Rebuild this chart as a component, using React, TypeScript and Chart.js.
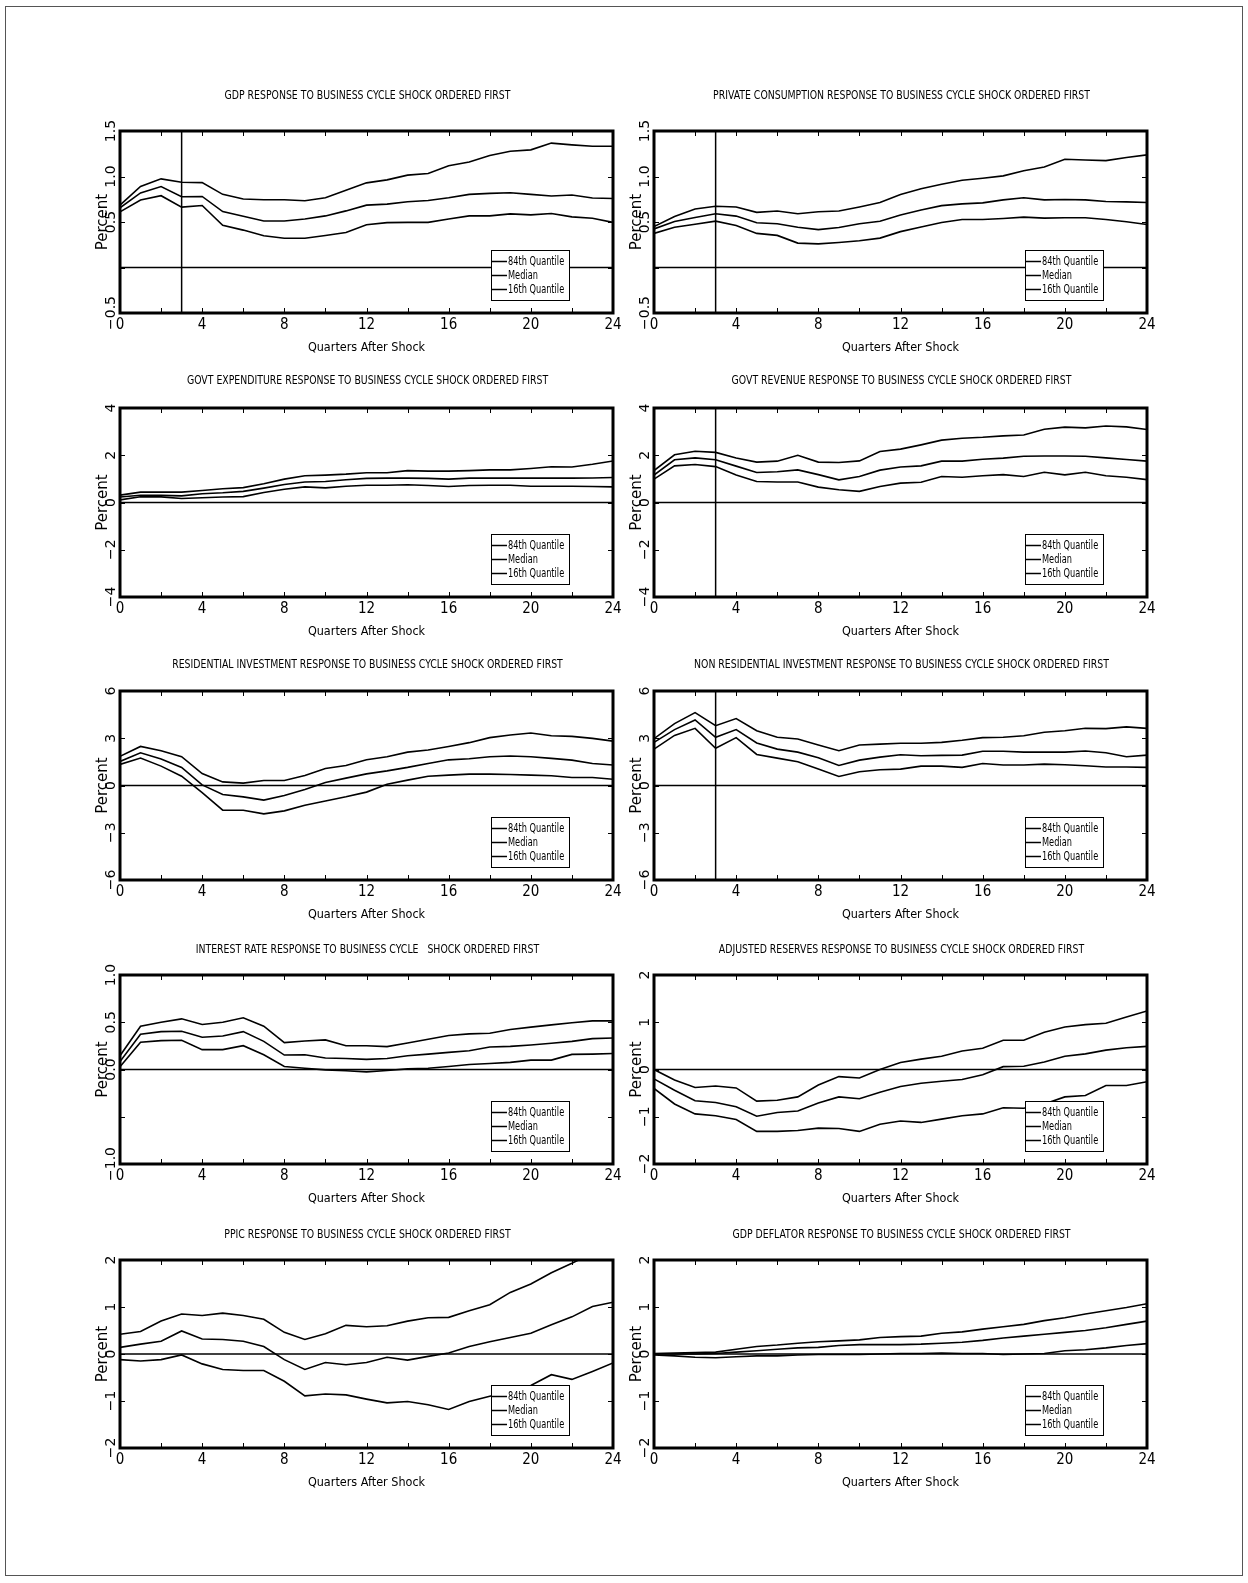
import React, { useEffect, useRef } from "react";
import { Chart, registerables } from "chart.js";

Chart.register(...registerables);

// Horizon (quarters after the shock)
const QUARTERS = [0, 1, 2, 3, 4, 5, 6, 7, 8, 9, 10, 11, 12, 13, 14, 15, 16, 17, 18, 19, 20, 21, 22, 23, 24];
const X_TICK_STEP = 4;
const FRAME_TICKS_X = [2, 4, 6, 8, 10, 12, 14, 16, 18, 20, 22];
const SERIES_LABELS = ["84th Quantile", "Median", "16th Quantile"];

// GDP
const gdp84 = [0.685, 0.89, 0.974, 0.937, 0.933, 0.804, 0.752, 0.744, 0.744, 0.733, 0.767, 0.848, 0.93, 0.963, 1.015, 1.033, 1.119, 1.159, 1.23, 1.278, 1.293, 1.367, 1.348, 1.333, 1.333];
const gdpMed = [0.656, 0.819, 0.889, 0.778, 0.781, 0.615, 0.563, 0.511, 0.511, 0.533, 0.567, 0.622, 0.685, 0.696, 0.722, 0.737, 0.767, 0.804, 0.815, 0.822, 0.804, 0.785, 0.796, 0.763, 0.759];
const gdp16 = [0.611, 0.741, 0.789, 0.663, 0.681, 0.463, 0.411, 0.348, 0.322, 0.322, 0.352, 0.385, 0.47, 0.493, 0.496, 0.496, 0.533, 0.567, 0.567, 0.589, 0.578, 0.593, 0.556, 0.541, 0.496];

// Private consumption
const cons84 = [0.45, 0.561, 0.643, 0.673, 0.665, 0.606, 0.621, 0.591, 0.613, 0.621, 0.665, 0.714, 0.803, 0.866, 0.914, 0.959, 0.981, 1.007, 1.063, 1.104, 1.19, 1.182, 1.175, 1.208, 1.238];
const consMed = [0.424, 0.506, 0.55, 0.591, 0.565, 0.491, 0.48, 0.442, 0.416, 0.439, 0.48, 0.509, 0.576, 0.632, 0.68, 0.699, 0.71, 0.743, 0.766, 0.743, 0.747, 0.743, 0.725, 0.721, 0.714];
const cons16 = [0.375, 0.442, 0.476, 0.509, 0.461, 0.375, 0.353, 0.268, 0.26, 0.275, 0.294, 0.323, 0.394, 0.446, 0.494, 0.528, 0.528, 0.539, 0.554, 0.543, 0.546, 0.546, 0.528, 0.502, 0.472];

// Government expenditure
const govx84 = [0.31, 0.44, 0.44, 0.44, 0.51, 0.58, 0.63, 0.79, 0.99, 1.13, 1.16, 1.2, 1.26, 1.26, 1.35, 1.33, 1.33, 1.35, 1.38, 1.38, 1.44, 1.51, 1.5, 1.62, 1.76];
const govxMed = [0.23, 0.31, 0.3, 0.28, 0.37, 0.41, 0.47, 0.61, 0.76, 0.87, 0.89, 0.96, 1.02, 1.03, 1.03, 1.02, 0.99, 1.03, 1.03, 1.03, 1.04, 1.03, 1.03, 1.04, 1.06];
const govx16 = [0.11, 0.24, 0.24, 0.17, 0.2, 0.23, 0.25, 0.42, 0.56, 0.66, 0.62, 0.69, 0.73, 0.73, 0.75, 0.72, 0.68, 0.72, 0.73, 0.73, 0.69, 0.69, 0.69, 0.68, 0.66];

// Government revenue
const govr84 = [1.35, 2.02, 2.17, 2.12, 1.88, 1.71, 1.75, 2.0, 1.71, 1.69, 1.76, 2.16, 2.26, 2.44, 2.64, 2.72, 2.76, 2.82, 2.86, 3.1, 3.19, 3.16, 3.24, 3.2, 3.09];
const govrMed = [1.16, 1.81, 1.89, 1.81, 1.54, 1.27, 1.3, 1.38, 1.18, 0.96, 1.1, 1.37, 1.5, 1.55, 1.75, 1.75, 1.83, 1.88, 1.96, 1.97, 1.97, 1.96, 1.89, 1.82, 1.75];
const govr16 = [0.99, 1.55, 1.61, 1.52, 1.16, 0.89, 0.87, 0.87, 0.65, 0.54, 0.47, 0.68, 0.82, 0.86, 1.1, 1.07, 1.13, 1.18, 1.1, 1.28, 1.17, 1.28, 1.13, 1.07, 0.97];

// Residential investment
const resi84 = [1.85, 2.48, 2.21, 1.83, 0.76, 0.23, 0.15, 0.32, 0.32, 0.64, 1.08, 1.27, 1.63, 1.83, 2.12, 2.25, 2.48, 2.72, 3.04, 3.21, 3.33, 3.16, 3.12, 2.99, 2.82];
const resiMed = [1.53, 2.08, 1.68, 1.15, 0.04, -0.57, -0.72, -0.93, -0.64, -0.25, 0.19, 0.47, 0.74, 0.93, 1.15, 1.4, 1.63, 1.7, 1.83, 1.87, 1.83, 1.72, 1.61, 1.4, 1.3];
const resi16 = [1.34, 1.74, 1.23, 0.59, -0.45, -1.57, -1.57, -1.8, -1.61, -1.25, -0.98, -0.72, -0.42, 0.08, 0.34, 0.59, 0.66, 0.72, 0.72, 0.7, 0.66, 0.62, 0.51, 0.51, 0.4];

// Non residential investment
const nres84 = [2.97, 3.93, 4.63, 3.8, 4.25, 3.48, 3.06, 2.95, 2.57, 2.21, 2.57, 2.63, 2.68, 2.68, 2.74, 2.87, 3.04, 3.06, 3.16, 3.38, 3.48, 3.63, 3.61, 3.72, 3.63];
const nresMed = [2.74, 3.55, 4.16, 3.06, 3.55, 2.7, 2.31, 2.12, 1.76, 1.27, 1.61, 1.8, 1.95, 1.89, 1.91, 1.93, 2.17, 2.17, 2.12, 2.12, 2.12, 2.19, 2.08, 1.83, 1.93];
const nres16 = [2.31, 3.18, 3.63, 2.36, 3.04, 1.97, 1.74, 1.51, 1.04, 0.57, 0.87, 1.0, 1.04, 1.23, 1.23, 1.15, 1.4, 1.3, 1.3, 1.36, 1.32, 1.25, 1.17, 1.17, 1.15];

// Interest rate
const rate84 = [0.146, 0.458, 0.5, 0.536, 0.476, 0.5, 0.547, 0.458, 0.284, 0.302, 0.313, 0.252, 0.252, 0.242, 0.281, 0.32, 0.359, 0.377, 0.384, 0.423, 0.448, 0.472, 0.494, 0.515, 0.515];
const rateMed = [0.085, 0.373, 0.401, 0.405, 0.341, 0.355, 0.401, 0.298, 0.153, 0.156, 0.121, 0.117, 0.107, 0.117, 0.146, 0.163, 0.181, 0.199, 0.238, 0.245, 0.259, 0.277, 0.298, 0.327, 0.334];
const rate16 = [0.028, 0.288, 0.306, 0.309, 0.21, 0.21, 0.252, 0.156, 0.032, 0.014, -0.004, -0.014, -0.025, -0.011, 0.007, 0.014, 0.032, 0.053, 0.064, 0.075, 0.099, 0.099, 0.16, 0.163, 0.17];

// Adjusted reserves
const resv84 = [0.0, -0.22, -0.38, -0.35, -0.39, -0.67, -0.65, -0.58, -0.33, -0.15, -0.18, 0.0, 0.15, 0.22, 0.28, 0.39, 0.45, 0.62, 0.62, 0.79, 0.9, 0.95, 0.98, 1.11, 1.24];
const resvMed = [-0.2, -0.44, -0.66, -0.7, -0.79, -0.99, -0.91, -0.88, -0.71, -0.58, -0.62, -0.48, -0.36, -0.29, -0.25, -0.21, -0.11, 0.06, 0.07, 0.16, 0.28, 0.33, 0.41, 0.46, 0.49];
const resv16 = [-0.4, -0.73, -0.94, -0.98, -1.06, -1.31, -1.31, -1.29, -1.24, -1.25, -1.31, -1.16, -1.09, -1.12, -1.05, -0.98, -0.94, -0.81, -0.82, -0.73, -0.58, -0.55, -0.34, -0.34, -0.26];

// PPIC
const ppic84 = [0.42, 0.48, 0.7, 0.85, 0.82, 0.87, 0.82, 0.74, 0.46, 0.31, 0.43, 0.61, 0.58, 0.6, 0.7, 0.77, 0.78, 0.92, 1.05, 1.31, 1.49, 1.73, 1.93, 2.15, 2.35];
const ppicMed = [0.14, 0.21, 0.27, 0.49, 0.32, 0.31, 0.27, 0.16, -0.12, -0.33, -0.18, -0.23, -0.18, -0.07, -0.13, -0.05, 0.02, 0.16, 0.26, 0.35, 0.44, 0.62, 0.79, 1.01, 1.1];
const ppic16 = [-0.12, -0.15, -0.12, -0.02, -0.21, -0.33, -0.35, -0.35, -0.58, -0.89, -0.85, -0.87, -0.96, -1.04, -1.01, -1.08, -1.18, -1.01, -0.9, -0.8, -0.67, -0.44, -0.54, -0.37, -0.19];

// GDP deflator
const defl84 = [0.01, 0.02, 0.03, 0.04, 0.1, 0.16, 0.19, 0.23, 0.26, 0.28, 0.3, 0.35, 0.37, 0.38, 0.44, 0.47, 0.53, 0.58, 0.63, 0.71, 0.77, 0.85, 0.92, 0.99, 1.07];
const deflMed = [0.0, 0.0, 0.0, 0.01, 0.04, 0.07, 0.1, 0.13, 0.14, 0.18, 0.2, 0.2, 0.2, 0.21, 0.23, 0.25, 0.29, 0.34, 0.38, 0.42, 0.46, 0.5, 0.56, 0.63, 0.7];
const defl16 = [-0.02, -0.04, -0.07, -0.08, -0.06, -0.04, -0.04, -0.02, -0.01, -0.01, -0.01, 0.0, 0.01, 0.01, 0.02, 0.01, 0.01, -0.01, 0.0, 0.01, 0.07, 0.09, 0.13, 0.18, 0.22];

// y-axis tick values and the labels printed beside them (some ticks carry no label)
const Y_TICKS_HALF = [-0.5, 0, 0.5, 1.0, 1.5];
const Y_LABELS_HALF = ["\u22120.5", "", "0.5", "1.0", "1.5"];
const Y_TICKS_FOUR = [-4, -2, 0, 2, 4];
const Y_LABELS_FOUR = ["\u22124", "\u22122", "0", "2", "4"];
const Y_TICKS_SIX = [-6, -3, 0, 3, 6];
const Y_LABELS_SIX = ["\u22126", "\u22123", "0", "3", "6"];
const Y_TICKS_ONE = [-1.0, -0.5, 0, 0.5, 1.0];
const Y_LABELS_ONE = ["\u22121.0", "", "0.0", "0.5", "1.0"];
const Y_TICKS_TWO = [-2, -1, 0, 1, 2];
const Y_LABELS_TWO = ["\u22122", "\u22121", "0", "1", "2"];

type PanelDef = {
  title: string;
  upper: number[];
  median: number[];
  lower: number[];
  yTicks: number[];
  yLabels: string[];
  marker: number | null;
};

const PANELS: PanelDef[] = [
  { title: "GDP RESPONSE TO BUSINESS CYCLE SHOCK ORDERED FIRST", upper: gdp84, median: gdpMed, lower: gdp16, yTicks: Y_TICKS_HALF, yLabels: Y_LABELS_HALF, marker: 3 },
  { title: "PRIVATE CONSUMPTION RESPONSE TO BUSINESS CYCLE SHOCK ORDERED FIRST", upper: cons84, median: consMed, lower: cons16, yTicks: Y_TICKS_HALF, yLabels: Y_LABELS_HALF, marker: 3 },
  { title: "GOVT EXPENDITURE RESPONSE TO BUSINESS CYCLE SHOCK ORDERED FIRST", upper: govx84, median: govxMed, lower: govx16, yTicks: Y_TICKS_FOUR, yLabels: Y_LABELS_FOUR, marker: null },
  { title: "GOVT REVENUE RESPONSE TO BUSINESS CYCLE SHOCK ORDERED FIRST", upper: govr84, median: govrMed, lower: govr16, yTicks: Y_TICKS_FOUR, yLabels: Y_LABELS_FOUR, marker: 3 },
  { title: "RESIDENTIAL INVESTMENT RESPONSE TO BUSINESS CYCLE SHOCK ORDERED FIRST", upper: resi84, median: resiMed, lower: resi16, yTicks: Y_TICKS_SIX, yLabels: Y_LABELS_SIX, marker: null },
  { title: "NON RESIDENTIAL INVESTMENT RESPONSE TO BUSINESS CYCLE SHOCK ORDERED FIRST", upper: nres84, median: nresMed, lower: nres16, yTicks: Y_TICKS_SIX, yLabels: Y_LABELS_SIX, marker: 3 },
  { title: "INTEREST RATE RESPONSE TO BUSINESS CYCLE   SHOCK ORDERED FIRST", upper: rate84, median: rateMed, lower: rate16, yTicks: Y_TICKS_ONE, yLabels: Y_LABELS_ONE, marker: null },
  { title: "ADJUSTED RESERVES RESPONSE TO BUSINESS CYCLE SHOCK ORDERED FIRST", upper: resv84, median: resvMed, lower: resv16, yTicks: Y_TICKS_TWO, yLabels: Y_LABELS_TWO, marker: null },
  { title: "PPIC RESPONSE TO BUSINESS CYCLE SHOCK ORDERED FIRST", upper: ppic84, median: ppicMed, lower: ppic16, yTicks: Y_TICKS_TWO, yLabels: Y_LABELS_TWO, marker: null },
  { title: "GDP DEFLATOR RESPONSE TO BUSINESS CYCLE SHOCK ORDERED FIRST", upper: defl84, median: deflMed, lower: defl16, yTicks: Y_TICKS_TWO, yLabels: Y_LABELS_TWO, marker: null },
];

// Page geometry (pixels)
const PAGE_W = 1248;
const PAGE_H = 1583;
const COL_LEFT = [120, 654];
const PLOT_W = 493;
const ROW_TOP = [131, 408, 691, 975, 1260];
const ROW_BOTTOM = [313, 597, 880, 1164, 1448];
const TITLE_Y = [96, 381, 665, 950, 1235];
const LEFT_M = 70;
const RIGHT_M = 30;
const BOTTOM_M = 52;
const TITLE_ABOVE = 20;

const NARROW = "'Liberation Sans Narrow', 'DejaVu Sans Condensed', 'Arial Narrow', sans-serif";
const PLAIN = "'DejaVu Sans', 'Liberation Sans', sans-serif";
const TITLE_SIZE = 13;
const TITLE_SQUEEZE = 0.8;
const Y_TICK_SIZE = 14;
const Y_TITLE_SIZE = 15;
const X_TICK_SIZE = 15;
const X_TITLE_SIZE = 12.5;
const LEGEND_SIZE = 12.5;
const LEGEND_SQUEEZE = 0.73;

const measureCtx = typeof document !== "undefined" ? document.createElement("canvas").getContext("2d") : null;
function textWidth(font: string, s: string): number {
  if (!measureCtx) return 0;
  measureCtx.font = font;
  return measureCtx.measureText(s).width;
}

// Draws text compressed horizontally around its anchor point
function squeezedText(ctx: CanvasRenderingContext2D, s: string, x: number, y: number, k: number) {
  ctx.save();
  ctx.translate(x, y);
  ctx.scale(k, 1);
  ctx.fillText(s, 0, 0);
  ctx.restore();
}

// Panel heading, frame, zero line, shock marker and the boxed key
const panelDecor = {
  id: "panelDecor",
  afterDatasetsDraw(chart: any, _args: any, opts: any) {
    const { ctx, chartArea: a } = chart;
    const x = chart.scales.x;
    const y = chart.scales.y;
    ctx.save();
    ctx.strokeStyle = "#000";
    ctx.fillStyle = "#000";
    ctx.lineCap = "butt";

    // heading
    ctx.font = `${TITLE_SIZE}px ${NARROW}`;
    ctx.textAlign = "center";
    ctx.textBaseline = "middle";
    squeezedText(ctx, opts.heading, (a.left + a.right) / 2 + 1, TITLE_ABOVE, TITLE_SQUEEZE);

    ctx.lineWidth = 1.5;
    const y0 = y.getPixelForValue(0);
    ctx.beginPath();
    ctx.moveTo(a.left, y0);
    ctx.lineTo(a.right, y0);
    ctx.stroke();

    if (opts.marker !== null && opts.marker !== undefined) {
      const xm = x.getPixelForValue(opts.marker);
      ctx.beginPath();
      ctx.moveTo(xm, a.top);
      ctx.lineTo(xm, a.bottom);
      ctx.stroke();
    }

    // key box
    const bw = 79;
    const bh = 51;
    const bx = a.right - 43 - bw;
    const by = a.bottom - 12 - bh;
    ctx.fillStyle = "#fff";
    ctx.fillRect(bx, by, bw, bh);
    ctx.lineWidth = 1;
    ctx.strokeRect(bx + 0.5, by + 0.5, bw - 1, bh - 1);
    ctx.font = `${LEGEND_SIZE}px ${NARROW}`;
    ctx.fillStyle = "#000";
    ctx.textBaseline = "middle";
    ctx.textAlign = "left";
    chart.data.datasets.forEach((ds: any, i: number) => {
      const ly = by + 11.5 + i * 14;
      ctx.lineWidth = 1.5;
      ctx.beginPath();
      ctx.moveTo(bx, ly);
      ctx.lineTo(bx + 16, ly);
      ctx.stroke();
      squeezedText(ctx, ds.label, bx + 17, ly + 0.5, LEGEND_SQUEEZE);
    });

    // heavy frame
    ctx.lineWidth = 3;
    ctx.strokeRect(a.left, a.top, a.right - a.left, a.bottom - a.top);

    // inward tick marks
    ctx.lineWidth = 1;
    const tl = 5;
    (opts.frameTicksX as number[]).forEach((q) => {
      const px = Math.round(x.getPixelForValue(q)) + 0.5;
      ctx.beginPath();
      ctx.moveTo(px, a.top);
      ctx.lineTo(px, a.top + tl);
      ctx.moveTo(px, a.bottom);
      ctx.lineTo(px, a.bottom - tl);
      ctx.stroke();
    });
    (opts.frameTicksY as number[]).forEach((v) => {
      const py = Math.round(y.getPixelForValue(v)) + 0.5;
      if (py <= a.top + 2 || py >= a.bottom - 2) return;
      ctx.beginPath();
      ctx.moveTo(a.left, py);
      ctx.lineTo(a.left + tl, py);
      ctx.moveTo(a.right, py);
      ctx.lineTo(a.right - tl, py);
      ctx.stroke();
    });
    ctx.restore();
  },
};

function Panel({ def, col, row }: { def: PanelDef; col: number; row: number }) {
  const ref = useRef<HTMLCanvasElement | null>(null);
  const canvasLeft = COL_LEFT[col] - LEFT_M;
  const canvasTop = TITLE_Y[row] - TITLE_ABOVE;
  const width = LEFT_M + PLOT_W + RIGHT_M;
  const height = ROW_BOTTOM[row] + BOTTOM_M - canvasTop;
  const chartTop = ROW_TOP[row] - canvasTop;

  useEffect(() => {
    if (!ref.current) return;
    const yTickFont = `${Y_TICK_SIZE}px ${PLAIN}`;
    const widest = Math.max(...def.yLabels.map((s) => textWidth(yTickFont, s)));
    const toPoints = (vals: number[]) => vals.map((v, i) => ({ x: QUARTERS[i], y: v }));
    const lineStyle = { borderColor: "#000", borderWidth: 1.6, pointRadius: 0, fill: false, tension: 0 };

    const chart = new Chart(ref.current, {
      type: "line",
      data: {
        datasets: [
          { label: SERIES_LABELS[0], data: toPoints(def.upper), ...lineStyle },
          { label: SERIES_LABELS[1], data: toPoints(def.median), ...lineStyle },
          { label: SERIES_LABELS[2], data: toPoints(def.lower), ...lineStyle },
        ],
      },
      options: {
        responsive: false,
        animation: false,
        devicePixelRatio: 1,
        events: [],
        layout: { padding: { left: 0, right: RIGHT_M, top: chartTop, bottom: 0 } },
        plugins: {
          legend: { display: false },
          tooltip: { enabled: false },
          title: { display: false },
          panelDecor: {
            heading: def.title,
            marker: def.marker,
            frameTicksX: FRAME_TICKS_X,
            frameTicksY: def.yTicks,
          },
        } as any,
        scales: {
          x: {
            type: "linear",
            min: QUARTERS[0],
            max: QUARTERS[QUARTERS.length - 1],
            grid: { display: false, drawTicks: false },
            border: { display: false },
            ticks: {
              stepSize: X_TICK_STEP,
              autoSkip: false,
              maxRotation: 0,
              minRotation: 0,
              padding: 3,
              color: "#000",
              font: { family: NARROW, size: X_TICK_SIZE },
              callback: (v: any) => String(v),
            },
            title: {
              display: true,
              text: "Quarters After Shock",
              color: "#000",
              font: { family: NARROW, size: X_TITLE_SIZE },
              padding: { top: 0, bottom: 17.5 - (X_TITLE_SIZE * 1.2) / 2 },
            },
            afterFit: (s: any) => {
              s.height = BOTTOM_M;
            },
          },
          y: {
            type: "linear",
            min: def.yTicks[0],
            max: def.yTicks[def.yTicks.length - 1],
            grid: { display: false, drawTicks: false },
            border: { display: false },
            afterBuildTicks: (s: any) => {
              s.ticks = def.yTicks.map((v) => ({ value: v }));
            },
            ticks: {
              autoSkip: false,
              minRotation: 90,
              maxRotation: 90,
              crossAlign: "center",
              padding: 8.5 - widest / 2,
              color: "#000",
              font: { family: PLAIN, size: Y_TICK_SIZE },
              callback: (v: any) => {
                const idx = def.yTicks.findIndex((t) => Math.abs(t - Number(v)) < 1e-9);
                return idx >= 0 ? def.yLabels[idx] : "";
              },
            },
            title: {
              display: true,
              text: "Percent",
              color: "#000",
              font: { family: PLAIN, size: Y_TITLE_SIZE },
              padding: { top: LEFT_M - 16.5 - (Y_TITLE_SIZE * 1.2) / 2, bottom: 0 },
            },
            afterFit: (s: any) => {
              s.width = LEFT_M;
            },
          },
        },
      } as any,
      plugins: [panelDecor],
    });
    return () => chart.destroy();
  }, [def, chartTop]);

  return (
    <canvas
      ref={ref}
      width={width}
      height={height}
      style={{ position: "absolute", left: canvasLeft, top: canvasTop, width, height }}
    />
  );
}

export default function App() {
  return (
    <div
      style={{
        position: "absolute",
        left: 0,
        top: 0,
        width: PAGE_W,
        height: PAGE_H,
        background: "#fff",
        overflow: "hidden",
      }}
    >
      <div
        style={{
          position: "absolute",
          left: 5,
          top: 6,
          width: 1236,
          height: 1568,
          border: "1px solid #555",
        }}
      />
      {PANELS.map((p, i) => (
        <Panel key={i} def={p} col={i % 2} row={Math.floor(i / 2)} />
      ))}
    </div>
  );
}
